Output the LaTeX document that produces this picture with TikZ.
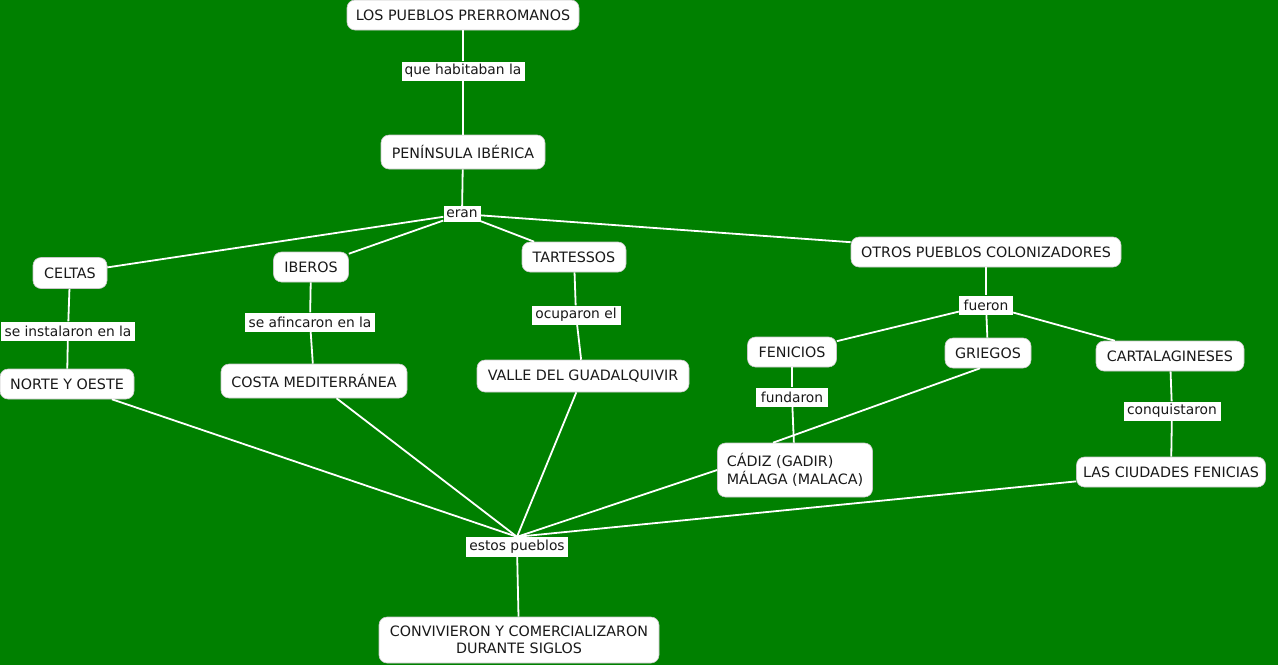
\documentclass[tikz,border=0pt]{standalone}
\usepackage{fontspec}
\setmainfont{DejaVu Sans}
\usetikzlibrary{calc}
\definecolor{bg}{RGB}{0,128,0}
\definecolor{bord}{RGB}{200,200,200}
\definecolor{txt}{RGB}{25,25,25}
\begin{document}
\begin{tikzpicture}[x=1pt,y=-1pt,
  concept/.style={draw=bord, line width=0.6pt, fill=white, rounded corners=8pt, inner sep=0pt,
     font=\fontsize{14.3}{17.5}\selectfont, text=txt, minimum height=30pt},
  lbl/.style={fill=white, inner sep=0pt, font=\fontsize{13.8}{17}\selectfont, text=txt, minimum height=19pt},
  link/.style={draw=white, line width=1.8pt}]
\fill[bg] (0,0) rectangle (1278,665);
\useasboundingbox (0,0) rectangle (1278,665);

% concepts
\node[concept, minimum width=232pt] (lpp) at (463,15) {LOS PUEBLOS PRERROMANOS};
\node[concept, minimum width=164pt, minimum height=34pt] (pi) at (463,152) {PENÍNSULA IBÉRICA};
\node[concept, minimum width=74pt, minimum height=31pt] (celtas) at (70,273) {CELTAS};
\node[concept, minimum width=75pt] (iberos) at (311,267) {IBEROS};
\node[concept, minimum width=104pt] (tart) at (574,257) {TARTESSOS};
\node[concept, minimum width=270pt] (otros) at (986,252) {OTROS PUEBLOS COLONIZADORES};
\node[concept, minimum width=134pt] (norte) at (67,384) {NORTE Y OESTE};
\node[concept, minimum width=186pt, minimum height=34pt] (costa) at (314,381) {COSTA MEDITERRÁNEA};
\node[concept, minimum width=212pt, minimum height=32pt] (valle) at (583,376) {VALLE DEL GUADALQUIVIR};
\node[concept, minimum width=89pt] (fen) at (792,352) {FENICIOS};
\node[concept, minimum width=86pt] (gri) at (988,353) {GRIEGOS};
\node[concept, minimum width=148pt] (cart) at (1170,356) {CARTALAGINESES};
\node[concept, minimum width=155pt, minimum height=54pt, align=left] (cadiz) at (795,470)
  {CÁDIZ (GADIR)\\MÁLAGA (MALACA)};
\node[concept, minimum width=189pt] (ciud) at (1171,472) {LAS CIUDADES FENICIAS};
\node[concept, minimum width=280pt, minimum height=46pt, align=center] (conv) at (519,640)
  {CONVIVIERON Y COMERCIALIZARON\\DURANTE SIGLOS};

% linking phrases
\node[lbl, minimum width=123pt] (l1) at (463,71) {que habitaban la};
\node[lbl, minimum width=37pt, minimum height=16pt] (eran) at (462,214) {eran};
\node[lbl, minimum width=134pt] (l2) at (68,331) {se instalaron en la};
\node[lbl, minimum width=130pt] (l3) at (310,322) {se afincaron en la};
\node[lbl, minimum width=89pt] (l4) at (576,315) {ocuparon el};
\node[lbl, minimum width=54pt] (fue) at (986,305) {fueron};
\node[lbl, minimum width=72pt] (fund) at (792,397) {fundaron};
\node[lbl, minimum width=97pt] (conq) at (1172,411) {conquistaron};
\node[lbl, minimum width=102pt, minimum height=20pt] (ep) at (517,547) {estos pueblos};

\coordinate (cadtop) at ($(cadiz.north)+(-22,0)$);

% connectors
\draw[link] (lpp) -- (l1);
\draw[link] (l1) -- (pi);
\draw[link] (pi) -- (eran);
\draw[link] (eran) -- (celtas);
\draw[link] (eran) -- (iberos);
\draw[link] (eran) -- (tart);
\draw[link] (eran) -- (otros);
\draw[link] (celtas) -- (l2);
\draw[link] (l2) -- (norte);
\draw[link] (iberos) -- (l3);
\draw[link] (l3) -- (costa);
\draw[link] (tart) -- (l4);
\draw[link] (l4) -- (valle);
\draw[link] (otros) -- (fue);
\draw[link] (fue) -- (fen);
\draw[link] (fue) -- (gri);
\draw[link] (fue) -- (cart);
\draw[link] (fen) -- (fund);
\draw[link] (fund) -- (cadiz);
\draw[link] ($(gri.south)+(-8,0)$) -- (cadtop);
\draw[link] (cart) -- (conq);
\draw[link] (conq) -- (ciud);
\draw[link] (norte) -- (ep.north);
\draw[link] (costa) -- (ep.north);
\draw[link] (valle) -- (ep.north);
\draw[link] (cadiz.west) -- (ep.north);
\draw[link] (ciud) -- (ep.north);
\draw[link] (ep) -- (conv);
\end{tikzpicture}
\end{document}
